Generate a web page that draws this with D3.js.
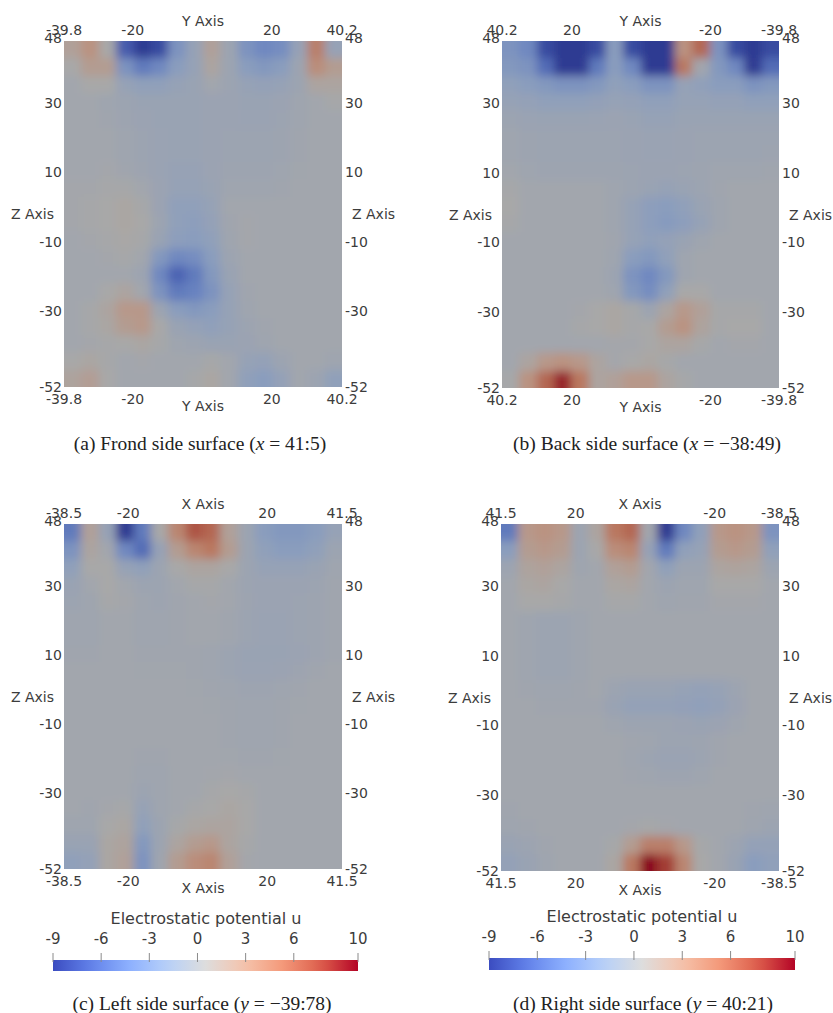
<!DOCTYPE html>
<html><head><meta charset="utf-8">
<script src="https://cdn.jsdelivr.net/npm/d3@7"></script>
<style>body{margin:0;background:#fff}svg{display:block}</style>
</head><body><svg id="chart" width="833" height="1013"></svg>
<script>
// ---- data: potential u read from each surface, grid of 16 columns (left->right as drawn) x 20 rows (z 48 -> -52)
const gridA = [
 [1.5, 3, 0.5, -7, -9, -8, -3, -1, 1.5, -0.5, -3, -4, -3.5, -1, 4.5, -1],
 [0.5, 2, 2, -3, -5, -4, -2, -1, 1, -0.5, -2, -2.5, -2, -0.5, 3.5, 2],
 [0, 0.5, 0.5, -1, -1.5, -1.5, -1, -0.8, 0, -0.5, -1, -1.2, -1, -0.5, 1, 1],
 [0, 0, -0.3, -0.5, -0.8, -0.8, -0.8, -0.8, -0.6, -0.6, -0.8, -0.8, -0.6, -0.3, 0, 0.3],
 [0, 0, -0.2, -0.4, -0.6, -0.8, -0.8, -0.8, -0.6, -0.6, -0.7, -0.7, -0.5, -0.3, 0, 0],
 [0, 0, 0, -0.3, -0.5, -0.7, -0.8, -0.8, -0.6, -0.5, -0.5, -0.5, -0.4, -0.2, 0, 0],
 [0, 0, 0, -0.3, -0.5, -0.7, -0.8, -0.8, -0.6, -0.5, -0.5, -0.5, -0.4, -0.2, 0, 0],
 [0, 0, 0.2, -0.2, -0.4, -0.7, -0.9, -0.9, -0.6, -0.4, -0.4, -0.4, -0.3, -0.1, 0, 0],
 [0.2, 0.2, 0.3, 0.3, 0, -0.6, -1, -1, -0.8, -0.3, -0.3, -0.3, -0.2, 0, 0, 0],
 [0.2, 0.3, 0.5, 0.8, 0.4, -0.6, -1.5, -1.5, -1, 0, 0, 0, 0, 0, 0, 0],
 [0.2, 0.3, 0.5, 0.8, 0.5, -0.5, -1.5, -1.8, -1.2, -0.2, 0.2, 0, 0, 0, 0, 0],
 [0, 0.2, 0.4, 0.6, 0.3, -0.8, -1.8, -2, -1.5, -0.3, 0.2, 0, 0, 0, 0, 0],
 [0, 0, 0.2, 0.3, 0, -2.5, -4, -3.5, -2, -0.5, 0, 0, 0, 0, 0, 0],
 [0, 0, 0, 0, -0.5, -4, -6.5, -5, -2.5, -0.8, 0, 0, 0, 0, 0, 0],
 [0, 0, 0.5, 1, 0, -3, -5, -4.5, -3, -1, -0.2, 0, 0, 0, 0, 0],
 [0, 0.3, 1, 2.5, 2.5, -0.5, -2, -2.5, -2, -1, -0.3, 0, 0, 0, 0, 0],
 [0, 0.3, 0.8, 2, 2.5, 0.5, -0.8, -1.2, -1.5, -1, -0.5, -0.2, 0, 0, 0, 0],
 [0, 0.2, 0.3, 0.5, 0.8, 0.3, -0.3, -0.5, -0.8, -0.8, -0.6, -0.3, 0, 0, 0, 0],
 [0.5, 0.8, 0.3, 0, 0.2, 0, 0, 0, 0.3, 0, -1, -1.2, -0.5, 0, 0, -0.3],
 [1.2, 1.8, 0.5, 0, 0, 0, 0, 0.3, 0.8, 0, -1.5, -2, -1.2, 0, -0.5, -1.5]
];
const gridB = [
 [-3, -4, -8, -9, -9, -8, -2, -8, -9, -9, 3, 6, -3, -8, -9, -8],
 [-2.5, -3, -6, -9, -9, -5, -2, -4, -9, -9, 5, 0, -2.5, -4, -9, -6],
 [-1.5, -2, -2.5, -3, -3, -2.5, -1.5, -2, -3, -3, -1, -1.5, -2, -2, -3, -2.5],
 [-1, -1.2, -1.5, -1.5, -1.5, -1.3, -1, -1.2, -1.5, -1.5, -1, -1, -1.2, -1.2, -1.5, -1.5],
 [-0.5, -0.7, -0.8, -0.8, -0.8, -0.7, -0.6, -0.8, -1, -1, -0.8, -0.8, -0.8, -0.8, -0.8, -0.8],
 [-0.3, -0.4, -0.5, -0.5, -0.5, -0.5, -0.5, -0.6, -0.7, -0.7, -0.6, -0.5, -0.5, -0.5, -0.5, -0.5],
 [-0.3, -0.4, -0.5, -0.5, -0.5, -0.5, -0.5, -0.6, -0.7, -0.7, -0.6, -0.5, -0.5, -0.5, -0.5, -0.4],
 [0, -0.3, -0.4, -0.4, -0.4, -0.4, -0.4, -0.5, -0.6, -0.6, -0.5, -0.4, -0.3, -0.3, -0.3, -0.2],
 [0.3, 0, 0, 0, 0, 0, -0.3, -0.5, -0.8, -1, -0.8, -0.5, -0.2, 0, 0, 0],
 [0.5, 0, 0, 0, 0, 0, -0.3, -1, -1.8, -2, -1.5, -0.8, -0.3, 0, 0, 0],
 [0.3, 0, 0, 0, 0, 0, -0.3, -1, -1.8, -2.2, -1.8, -1, -0.3, 0, 0, 0],
 [0, 0, 0, 0, 0, 0, -0.2, -1, -1.5, -1.2, -0.8, -0.3, 0, 0, 0, 0],
 [0, 0, 0, 0, 0, 0, -0.3, -2, -2.5, -1.5, -0.3, 0, 0, 0, 0, 0],
 [0, 0, 0, 0, 0, 0, -0.5, -3, -4, -2.5, -0.3, 0, 0, 0, 0, 0],
 [0, 0, 0, 0, 0, 0, -0.3, -2.5, -3.5, -1.5, 0.5, 0.5, 0, 0, 0, 0],
 [0, 0, 0, 0, 0.2, 0.5, 0.8, 0.3, -0.5, 1, 2.5, 1.5, 0.3, 0.3, 0.3, 0],
 [0, 0, 0, 0, 0.3, 0.5, 0.8, 0.3, 0.5, 2, 3, 1.2, 0.3, 0.5, 0.5, 0],
 [0, 0, 0, 0, 0, 0, 0.2, 0.2, 0.5, 1, 1, 0.3, 0, 0.2, 0.2, 0],
 [0, 1, 2.5, 3, 2.5, 1, 0.2, 0.5, 0.8, 0.3, 0, 0, 0, 0, 0, 0],
 [0.3, 3, 6, 9, 5, 1, 1.5, 2.5, 2.5, 1, 0.3, 0, 0, 0, 0, 0]
];
const gridC = [
 [-5, 1.5, -1, -9, -5, 0.5, 4, 7, 6, 1.5, -0.5, -2, -2.5, -2.5, -2, -1],
 [-3, 1, 0, -4, -6, -1, 2, 4, 5, 2, -0.5, -1.5, -2, -2, -1.5, -0.5],
 [-1.5, 0.5, 0.5, -1, -1.5, -0.5, 0.5, 1, 1, 0.5, -0.5, -1, -1, -1, -0.8, -0.3],
 [-0.8, 0, 0.5, 0, -0.5, -0.5, 0, 0.3, 0.3, 0, -0.5, -0.6, -0.6, -0.6, -0.5, -0.2],
 [-0.5, -0.3, 0.3, 0.2, -0.3, -0.4, -0.2, 0, 0.2, 0, -0.4, -0.6, -0.6, -0.5, -0.4, -0.2],
 [-0.3, -0.3, 0, 0, -0.3, -0.3, -0.2, 0, 0, -0.2, -0.5, -0.7, -0.7, -0.5, -0.4, -0.2],
 [-0.3, -0.3, 0, 0, -0.3, -0.3, -0.2, 0, 0, -0.2, -0.5, -0.7, -0.7, -0.5, -0.4, -0.2],
 [-0.2, -0.2, 0, 0, -0.2, -0.2, -0.2, -0.2, -0.3, -0.5, -0.8, -0.8, -0.8, -0.6, -0.4, -0.2],
 [0, 0, 0, 0, -0.1, -0.1, -0.1, -0.2, -0.3, -0.5, -0.7, -0.7, -0.6, -0.4, -0.2, 0],
 [0, 0, 0, 0, 0, 0, 0, -0.1, -0.2, -0.3, -0.4, -0.4, -0.3, -0.2, 0, 0],
 [0, 0, 0, 0, 0, 0, 0, 0, -0.1, -0.2, -0.3, -0.3, -0.2, -0.1, 0, 0],
 [0, 0, 0, 0, 0, 0, 0, 0, 0, -0.2, -0.3, -0.3, -0.2, 0, 0, 0],
 [0, 0, 0, 0, 0, 0, 0, 0, 0, -0.2, -0.3, -0.3, -0.2, 0, 0, 0],
 [0, 0, 0, 0, -0.2, -0.2, 0, 0, 0, -0.1, -0.2, -0.2, -0.1, 0, 0, 0],
 [0, 0, 0, 0, -0.3, -0.3, 0, 0, 0.1, 0.2, 0, 0, 0, 0, 0, 0],
 [0, 0, 0, 0, -0.5, -0.3, 0, 0, 0.3, 0.5, 0.3, 0, 0, 0, 0, 0],
 [0, -0.2, 0.2, 0.3, -1, -0.3, 0, 0.3, 0.5, 0.8, 0.5, 0, 0, 0, 0, 0],
 [-0.3, -0.3, 0.5, 0.8, -1.5, -0.5, 0.3, 0.8, 1, 1, 0.5, 0, 0, 0, 0, 0],
 [-0.8, -0.8, 0.8, 1.2, -2.5, -0.5, 1, 2, 2.5, 1, 0.3, 0, 0, 0, 0, 0],
 [-1.5, -1.2, 0.8, 1.5, -3, -0.3, 2, 3.5, 4, 1.5, 0.2, 0, 0, 0, 0, 0]
];
const gridD = [
 [-5, 2.5, 3, 2.5, -0.5, 1, 5, 6, 0, -9, -4, -1.5, 2.5, 3, 2.5, -3],
 [-2, 2, 2.5, 2, -0.5, 0.5, 3.5, 4, -1, -5, -1.5, -1, 2, 2.5, 2, -1.5],
 [-0.5, 1.2, 1.5, 1, -0.3, 0, 1.5, 2, 0, -1.5, -0.5, -0.5, 1, 1.2, 1, -0.5],
 [0, 0.8, 1, 0.5, 0, 0, 0.8, 1, 0, -0.5, -0.3, -0.3, 0.5, 0.5, 0.5, 0],
 [0, 0.5, 0.5, 0.3, 0, 0, 0.3, 0.3, 0, -0.3, -0.2, -0.2, 0.2, 0.2, 0.2, 0],
 [0, -0.3, -0.5, -0.5, -0.3, 0, 0, 0, 0, 0, 0, 0, 0, 0, 0, 0],
 [0, -0.3, -0.5, -0.5, -0.3, 0, 0, 0, 0, 0, 0, 0, 0, 0, 0, 0],
 [0, -0.3, -0.5, -0.5, -0.3, 0, 0, 0, 0, 0, 0, 0, 0, 0, 0, 0],
 [0, -0.3, -0.5, -0.5, -0.3, 0, 0, 0, 0, 0, 0, 0, 0, 0, 0, 0],
 [0, -0.2, -0.3, -0.3, -0.2, 0, -0.5, -0.8, -0.8, -0.8, -1, -1.2, -1, -0.5, 0, 0],
 [0, 0, -0.2, -0.2, -0.2, -0.2, -0.8, -1.2, -1.2, -1.2, -1.3, -1.5, -1.2, -0.6, 0, 0],
 [0, 0, 0, 0, 0, 0, -0.3, -0.5, -0.5, -0.5, -0.6, -0.8, -0.6, -0.3, 0, 0],
 [0, 0, 0, 0, 0, 0, 0, -0.2, -0.3, -0.5, -0.5, -0.4, -0.2, 0, 0, 0],
 [0, 0, 0, 0, 0, 0, 0, -0.3, -0.5, -0.7, -0.7, -0.5, -0.2, 0, 0, 0],
 [0, 0, 0, 0, 0, 0, 0, -0.2, -0.3, -0.4, -0.4, -0.3, 0, 0, 0, 0],
 [0, 0, 0, 0, 0, 0, 0, 0, 0, 0, 0, 0, 0, 0, 0, 0],
 [-0.2, 0, 0, 0, 0, 0, 0, 0, 0, 0, 0, 0, 0, 0, -0.2, -0.3],
 [-0.3, -0.2, 0, 0, 0, 0, 0, 0.2, 0.3, 0.2, 0, 0, 0, 0, -0.3, -0.5],
 [-0.8, -0.5, -0.2, 0, 0, 0, 0.3, 2, 4.5, 4.5, 2.5, 0.3, 0, -0.5, -1.2, -1.2],
 [-1.2, -0.8, -0.3, 0, 0, 0, 0.8, 5, 10, 8, 4, 0.5, 0, -0.8, -2, -1.5]
];
const yTicks = [-39.8, -20, 20, 40.2];
const xTicks = [-38.5, -20, 20, 41.5];
const zTicks = [48, 30, 10, -10, -30, -52];
const cbTicks = [-9, -6, -3, 0, 3, 6, 10];
const cbTitle = "Electrostatic potential u";
const captions = [
  ["(a) Frond side surface (", "x", " = 41:5)"],
  ["(b) Back side surface (", "x", " = \u221238:49)"],
  ["(c) Left side surface (", "y", " = \u221239:78)"],
  ["(d) Right side surface (", "y", " = 40:21)"]
];

// ---- colour map (ParaView Cool to Warm)
const cwStops = ["#3b4cc0","#6282ea","#8db0fe","#b8d0f9","#dddddd","#f5c4ad","#f49a7b","#de604d","#b40426"];
const cmap = d3.scaleLinear()
  .domain(cwStops.map((d,i)=> -9 + 19*i/(cwStops.length-1)))
  .range(cwStops).interpolate(d3.interpolateRgb).clamp(true);
const shadeK = 0.76;
const shaded = v => { const c = d3.rgb(cmap(v)); return d3.rgb(c.r*shadeK, c.g*shadeK, c.b*shadeK).toString(); };

const svg = d3.select("#chart");
const defs = svg.append("defs");
defs.append("filter").attr("id","blur").attr("x","-5%").attr("y","-5%").attr("width","110%").attr("height","110%")
  .append("feGaussianBlur").attr("stdDeviation", 5);

const panels = [
  {grid: gridA, hDom: [-39.8, 40.2], ticks: yTicks, name: "Y Axis", L: 64, R: 342, T: 41, B: 387, cap: captions[0], capX: 200, capY: 443},
  {grid: gridB, hDom: [40.2, -39.8], ticks: yTicks, name: "Y Axis", L: 502, R: 779, T: 41, B: 388, cap: captions[1], capX: 647, capY: 443},
  {grid: gridC, hDom: [-38.5, 41.5], ticks: xTicks, name: "X Axis", L: 64, R: 342, T: 524, B: 869, cap: captions[2], capX: 202, capY: 1003,
   cb: {x0: 53, x1: 358, y: 960, h: 11, title: 206}},
  {grid: gridD, hDom: [41.5, -38.5], ticks: xTicks, name: "X Axis", L: 501, R: 779, T: 524, B: 871, cap: captions[3], capX: 643, capY: 1003,
   cb: {x0: 489, x1: 795, y: 958, h: 12, title: 642}}
];

const sans = "'DejaVu Sans', sans-serif";
const txtCol = "#3c3c3c";

panels.forEach((p, i) => {
  const nR = p.grid.length, nC = p.grid[0].length;
  const xb = d3.scaleBand().domain(d3.range(nC)).range([p.L, p.R]);
  const yb = d3.scaleBand().domain(d3.range(nR)).range([p.T, p.B]);
  const hS = d3.scaleLinear().domain(p.hDom).range([p.L, p.R]);
  const zS = d3.scaleLinear().domain([48, -52]).range([p.T, p.B]);

  defs.append("clipPath").attr("id", "clip"+i).append("rect")
    .attr("x", p.L).attr("y", p.T).attr("width", p.R-p.L).attr("height", p.B-p.T);

  const cells = [];
  p.grid.forEach((row, r) => row.forEach((v, c) => cells.push({r, c, v})));
  const pad = 30;
  svg.append("g").attr("clip-path", `url(#clip${i})`)
    .append("g").attr("filter", "url(#blur)")
    .selectAll("rect").data(cells).join("rect")
    .attr("x", d => xb(d.c) - (d.c === 0 ? pad : 0))
    .attr("y", d => yb(d.r) - (d.r === 0 ? pad : 0))
    .attr("width", d => xb.bandwidth() + 0.6 + (d.c === 0 ? pad : 0) + (d.c === nC-1 ? pad : 0))
    .attr("height", d => yb.bandwidth() + 0.6 + (d.r === 0 ? pad : 0) + (d.r === nR-1 ? pad : 0))
    .attr("fill", d => shaded(d.v))
    .attr("shape-rendering", "crispEdges");

  const lab = svg.append("g").attr("font-family", sans).attr("font-size", 14).attr("fill", txtCol)
    .attr("dominant-baseline", "central");
  // horizontal tick labels (top and bottom)
  lab.selectAll(".tt").data(p.ticks).join("text").attr("text-anchor", "middle")
    .attr("x", d => hS(d)).attr("y", p.T - 11).text(d => d);
  lab.selectAll(".tb").data(p.ticks).join("text").attr("class","tb").attr("text-anchor", "middle")
    .attr("x", d => hS(d)).attr("y", p.B + 12).text(d => d);
  lab.append("text").attr("text-anchor", "middle").attr("x", (p.L+p.R)/2).attr("y", p.T - 20).text(p.name);
  lab.append("text").attr("text-anchor", "middle").attr("x", (p.L+p.R)/2).attr("y", p.B + 19).text(p.name);
  // z tick labels left & right
  lab.selectAll(".zl").data(zTicks).join("text").attr("class","zl").attr("text-anchor", "end")
    .attr("x", p.L - 2).attr("y", d => zS(d) - (d === 48 ? 3 : 0)).text(d => d);
  lab.selectAll(".zr").data(zTicks).join("text").attr("class","zr").attr("text-anchor", "start")
    .attr("x", p.R + 3).attr("y", d => zS(d) - (d === 48 ? 3 : 0)).text(d => d);
  lab.append("text").attr("text-anchor", "end").attr("x", p.L - 10).attr("y", zS(-2)).text("Z Axis");
  lab.append("text").attr("text-anchor", "start").attr("x", p.R + 10).attr("y", zS(-2)).text("Z Axis");

  // caption
  const cap = svg.append("text").attr("x", p.capX).attr("y", p.capY).attr("text-anchor", "middle")
    .attr("dominant-baseline", "central").attr("font-family", "'Liberation Serif', 'Times New Roman', serif")
    .attr("font-size", 19.5).attr("fill", "#222");
  cap.append("tspan").text(p.cap[0]);
  cap.append("tspan").attr("font-style", "italic").text(p.cap[1]);
  cap.append("tspan").text(p.cap[2]);

  // colour bar
  if (p.cb) {
    const cb = p.cb;
    const cS = d3.scaleLinear().domain([-9, 10]).range([cb.x0, cb.x1]);
    const gid = "grad" + i;
    const grad = defs.append("linearGradient").attr("id", gid).attr("x1", 0).attr("x2", 1).attr("y1", 0).attr("y2", 0);
    grad.selectAll("stop").data(d3.range(0, 1.0001, 0.05)).join("stop")
      .attr("offset", d => d).attr("stop-color", d => cmap(-9 + 19*d));
    svg.append("rect").attr("x", cb.x0).attr("y", cb.y).attr("width", cb.x1 - cb.x0).attr("height", cb.h)
      .attr("fill", `url(#${gid})`);
    svg.append("g").selectAll("line").data(cbTicks).join("line")
      .attr("x1", d => cS(d)).attr("x2", d => cS(d)).attr("y1", cb.y - 7).attr("y2", cb.y + 2)
      .attr("stroke", "#8a8a8a").attr("stroke-width", 1);
    const cl = svg.append("g").attr("font-family", sans).attr("font-size", 15).attr("fill", txtCol)
      .attr("dominant-baseline", "central");
    cl.selectAll("text").data(cbTicks).join("text").attr("text-anchor", "middle")
      .attr("x", d => cS(d)).attr("y", cb.y - 21).text(d => d);
    cl.append("text").attr("text-anchor", "middle").attr("x", cb.title).attr("y", cb.y - 42)
      .attr("font-size", 16).text(cbTitle);
  }
});
</script>
</body></html>
